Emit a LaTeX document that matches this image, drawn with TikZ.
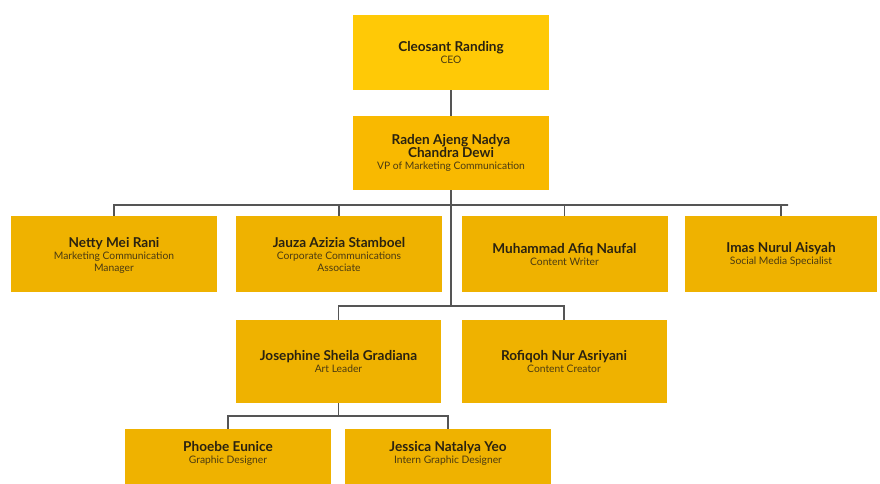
\documentclass[tikz,border=0pt]{standalone}
\usepackage{fontspec}
\setmainfont{Lato}
\definecolor{ceoc}{HTML}{FFC906}
\definecolor{vpc}{HTML}{F9B900}
\definecolor{boxc}{HTML}{EFB200}
\definecolor{linec}{HTML}{555555}
\definecolor{namec}{HTML}{2A2210}
\definecolor{subc}{HTML}{4A3A12}
\newcommand{\nm}[1]{{\fontsize{13.6}{14.5}\selectfont\bfseries #1}}
\newcommand{\sbt}[1]{{\fontsize{10.3}{12}\selectfont\color{subc}#1}}
\tikzset{
  box/.style={rectangle, fill=boxc, minimum width=206pt, minimum height=76pt,
    align=center, inner sep=2pt, text=namec},
  link/.style={draw=linec, line width=1.2pt},
}
\begin{document}
\begin{tikzpicture}[x=1pt,y=-1pt]
\clip (0,0) rectangle (880,483);
% nodes
\node[box, fill=ceoc, minimum width=196pt, minimum height=75pt] (ceo) at (451,52.5)
  {\nm{Cleosant Randing}\\\sbt{CEO}};
\node[box, fill=vpc, minimum width=196pt, minimum height=74pt] (vp) at (451,153)
  {\nm{Raden Ajeng Nadya}\\\nm{Chandra Dewi}\\\sbt{VP of Marketing Communication}};
\node[box, text depth=-5pt] (netty) at (114,254)
  {\nm{Netty Mei Rani}\\\sbt{Marketing Communication}\\\sbt{Manager}};
\node[box, text depth=-5pt] (jauza) at (339,254)
  {\nm{Jauza Azizia Stamboel}\\\sbt{Corporate Communications}\\\sbt{Associate}};
\node[box] (muh) at (564.5,254)
  {\nm{Muhammad Afiq Naufal}\\\sbt{Content Writer}};
\node[box, minimum width=192pt] (imas) at (781,254)
  {\nm{Imas Nurul Aisyah}\\\sbt{Social Media Specialist}};
\node[box, minimum width=205pt, minimum height=83pt] (jos) at (338.5,361.5)
  {\nm{Josephine Sheila Gradiana}\\\sbt{Art Leader}};
\node[box, minimum width=205pt, minimum height=83pt] (rof) at (564,361.5)
  {\nm{Rofiqoh Nur Asriyani}\\\sbt{Content Creator}};
\node[box, minimum width=206pt, minimum height=83pt, text depth=36pt] (pho) at (228,470.5)
  {\nm{Phoebe Eunice}\\\sbt{Graphic Designer}};
\node[box, minimum width=206pt, minimum height=83pt, text depth=36pt] (jes) at (448,470.5)
  {\nm{Jessica Natalya Yeo}\\\sbt{Intern Graphic Designer}};
% junctions
\coordinate (r2) at (451,205);
\coordinate (r2end) at (788,205);
\coordinate (r3) at (451,306);
\coordinate (r4) at (338.5,416);
% connectors
\draw[link] (ceo) -- (vp);
\draw[link] (vp.south) -- (r3);
\draw[link] (netty.north) |- (r2);
\draw[link] (jauza.north) |- (r2);
\draw[link] (muh.north) |- (r2);
\draw[link] (imas.north) |- (r2end) -- (r2);
\draw[link] (jos.north) |- (r3);
\draw[link] (rof.north) |- (r3);
\draw[link] (jos.south) -- (r4);
\draw[link] (pho.north) |- (r4);
\draw[link] (jes.north) |- (r4);
\end{tikzpicture}
\end{document}
